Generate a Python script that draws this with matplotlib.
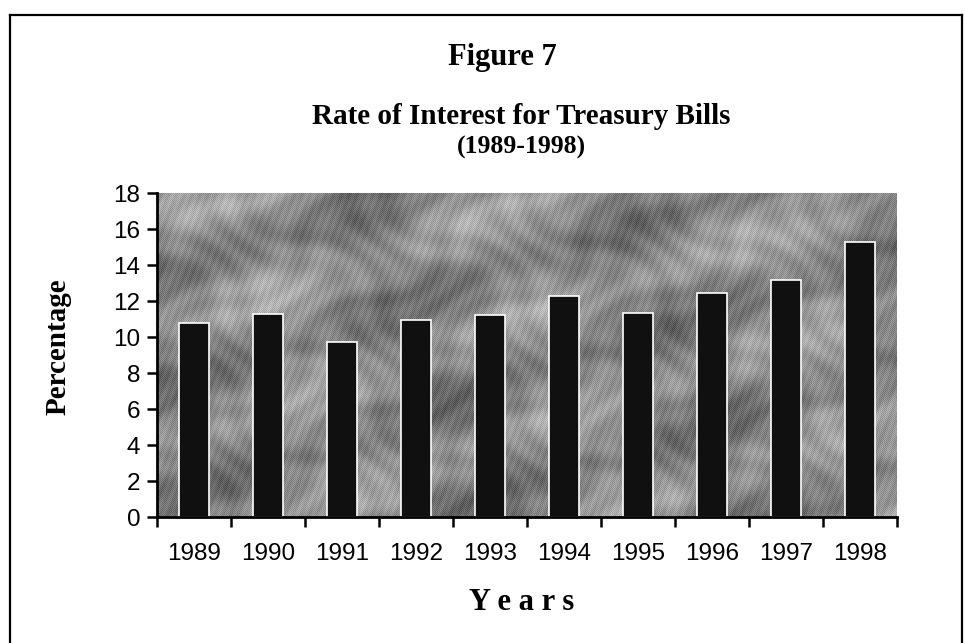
import numpy as np
import matplotlib.pyplot as plt
from matplotlib.lines import Line2D

# ---- data ----
years = ["1989", "1990", "1991", "1992", "1993", "1994", "1995", "1996", "1997", "1998"]
rates = [10.8, 11.3, 9.7, 10.95, 11.2, 12.3, 11.35, 12.45, 13.15, 15.3]
y_ticks = [0, 2, 4, 6, 8, 10, 12, 14, 16, 18]

SERIF = ["Liberation Serif", "DejaVu Serif"]
SANS = ["Liberation Sans", "DejaVu Sans"]

fig = plt.figure(figsize=(9.65, 6.43), dpi=100)
fig.patch.set_facecolor("white")

# outer frame (left, top, right edges only)
W, H = 965.0, 643.0
x0, x1, ytop = 10 / W, 962 / W, 1 - 15 / H
for xs, ys in [([x0, x0], [0, ytop]), ([x0, x1], [ytop, ytop]), ([x1, x1], [ytop, 0])]:
    fig.add_artist(Line2D(xs, ys, transform=fig.transFigure, color="black", lw=1.6))

ax = fig.add_axes([157 / W, 1 - 517 / H, 740 / W, 324 / H])

# textured grey plot background (granite look of the original)
ny, nx = 324, 740
yy, xx = np.mgrid[0:ny, 0:nx].astype(float)
bands = np.sin((xx * 0.35 + yy * 1.0) / 18.0) + 0.6 * np.sin((xx * 0.9 - yy * 0.4) / 37.0)
blotch = np.sin(xx / 11.0 + 2 * np.sin(yy / 17.0)) * np.sin(yy / 9.0 + 2 * np.sin(xx / 23.0))
grain = np.sin(xx * 2.1 + yy * 3.7) * np.sin(xx * 1.3 - yy * 2.9)
dither = ((xx + yy) % 2)
tex = 0.54 + 0.08 * bands + 0.07 * blotch + 0.05 * grain + 0.10 * dither - 0.05
ax.imshow(tex, cmap="gray", vmin=0, vmax=1, aspect="auto",
          extent=[-0.5, len(years) - 0.5, 0, 18], zorder=0, interpolation="nearest")

pos = np.arange(len(years))
ax.bar(pos, rates, width=0.4, color="#101010", edgecolor="white", linewidth=1.2, zorder=2)

ax.set_xlim(-0.5, len(years) - 0.5)
ax.set_ylim(0, 18)
ax.set_yticks(y_ticks)
ax.set_yticklabels([str(v) for v in y_ticks], family=SANS, fontsize=17.5)
ax.set_xticks(pos)
ax.set_xticklabels(years, family=SANS, fontsize=17.5)
ax.set_xticks(np.arange(-0.5, len(years)), minor=True)
ax.tick_params(axis="x", which="major", length=0, pad=19)
ax.tick_params(axis="x", which="minor", length=7, width=1.8, direction="out")
ax.tick_params(axis="y", length=7, width=1.8, direction="out", pad=5)

for s in ["top", "right"]:
    ax.spines[s].set_visible(False)
for s in ["left", "bottom"]:
    ax.spines[s].set_linewidth(2)

fig.text(502 / W, 1 - 57 / H, "Figure 7", ha="center", va="center",
         family=SERIF, fontweight="bold", fontsize=22)
fig.text(521 / W, 1 - 116 / H, "Rate of Interest for Treasury Bills", ha="center", va="center",
         family=SERIF, fontweight="bold", fontsize=21)
fig.text(521 / W, 1 - 147 / H, "(1989-1998)", ha="center", va="center",
         family=SERIF, fontweight="bold", fontsize=18.5)
fig.text(58 / W, 1 - 347 / H, "Percentage", ha="center", va="center", rotation=90,
         family=SERIF, fontweight="bold", fontsize=21)
fig.text(522 / W, 1 - 602 / H, "Y e a r s", ha="center", va="center",
         family=SERIF, fontweight="bold", fontsize=22)

fig.savefig("out.png", dpi=100)
